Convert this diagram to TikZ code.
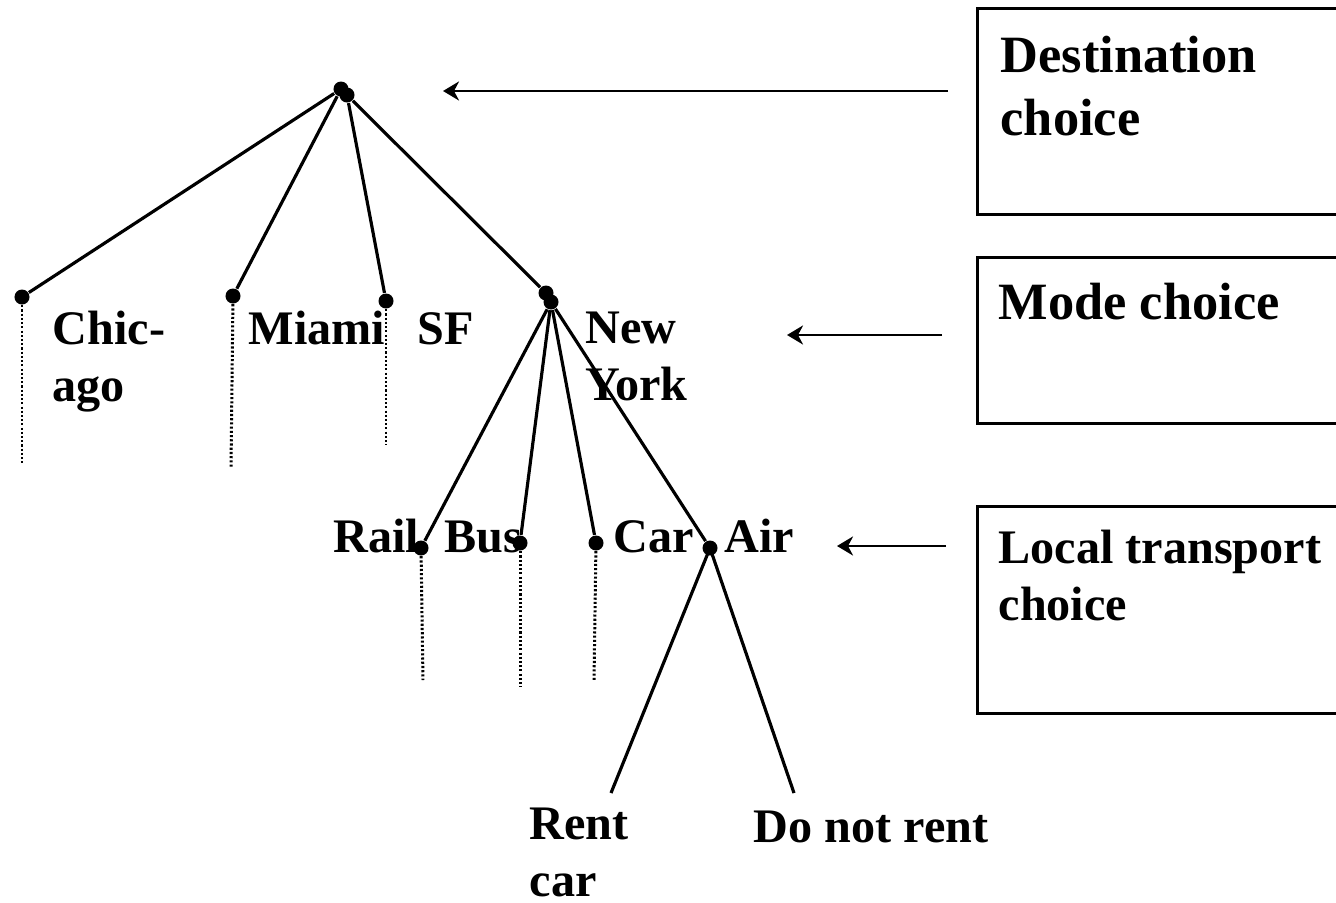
\documentclass[tikz,border=0pt]{standalone}
\usepackage{fontspec}
\setmainfont{Liberation Serif}
\usetikzlibrary{arrows.meta,positioning}

\begin{document}
\begin{tikzpicture}[x=0.01cm, y=-0.01cm,
          dot/.style={circle, fill=black, inner sep=0pt, minimum size=0.15cm},
          branch/.style={line width=0.9pt},
          trail/.style={line width=0.85pt, dash pattern=on 0.6pt off 0.6pt},
          lbl/.style={anchor=base west, inner sep=0pt, align=left, font=\bfseries\fontsize{13.7}{16.2}\selectfont},
          biglbl/.style={lbl, font=\bfseries\fontsize{14.9}{17.9}\selectfont},
          levelbox/.style={draw, line width=0.75pt, anchor=north west, minimum width=4cm},
          pointer/.style={line width=0.7pt, -{Stealth[length=0.16cm, width=0.19cm, inset=0.05cm]}}
        ]
          \clip (0,0) rectangle (1336,902);

          % Wurzel (Ziel)
          \node[dot] (root) at (341,89) {};
          \node[dot] (root2) at (347,95) {};

          % Ziele
          \node[dot] (chi) at (22,297) {};
          \node[dot] (mia) at (233,296) {};
          \node[dot] (sf) at (386,301) {};
          \node[dot] (ny) at (546,293) {};
          \node[dot] (ny2) at (551,302) {};

          % Verkehrsmittel
          \node[dot] (rail) at (421,548) {};
          \node[dot] (bus) at (520,543) {};
          \node[dot] (car) at (596,543) {};
          \node[dot] (air) at (710,548) {};

          % Enden
          \coordinate (chiend) at (22,463);
          \coordinate (miaend) at (231,468);
          \coordinate (sfend) at (386,445);
          \coordinate (railend) at (423,680);
          \coordinate (busend) at (520,687);
          \coordinate (carend) at (594,680);
          \coordinate (rentend) at (611,793);
          \coordinate (norentend) at (794,793);

          % Aeste
          \draw[branch] (root) -- (chi);
          \draw[branch] (root) -- (mia);
          \draw[branch] (root2) -- (sf);
          \draw[branch] (root2) -- (ny);
          \draw[branch] (ny2) -- (rail);
          \draw[branch] (ny2) -- (bus);
          \draw[branch] (ny2) -- (car);
          \draw[branch] (ny2) -- (air);
          \draw[branch] (air.center) -- (rentend);
          \draw[branch] (air.center) -- (norentend);

          % punktierte Fortsetzungen
          \draw[trail] (chi) -- (chiend);
          \draw[trail] (mia) -- (miaend);
          \draw[trail] (sf) -- (sfend);
          \draw[trail] (rail) -- (railend);
          \draw[trail] (bus) -- (busend);
          \draw[trail] (car) -- (carend);

          % Beschriftungen (base = letzte Zeile)
          \node[lbl] (chilbl) at (52,401) {Chic-\\ago};
          \node[lbl] (mialbl) at (248,344) {Miami};
          \node[lbl] (sflbl) at (417,344) {SF};
          \node[lbl] (nylbl) at (585,400) {New\\York};
          \node[lbl] (raillbl) at (333,552) {Rail};
          \node[lbl] (buslbl) at (444,552) {Bus};
          \node[lbl] (carlbl) at (613,552) {Car};
          \node[lbl] (airlbl) at (724,552) {Air};
          \node[lbl] (rentlbl) at (529,896) {Rent\\car};
          \node[lbl] (norentlbl) at (753,842) {Do not rent};

          % Ebenen
          \node[levelbox, minimum height=2.06cm] (destbox) at (976,7) {};
          \node[levelbox, minimum height=1.66cm] (modebox) at (976,256) {};
          \node[levelbox, minimum height=2.07cm] (localbox) at (976,505) {};
          \node[biglbl] (desttxt) at (1000,135) {Destination\\choice};
          \node[biglbl] (modetxt) at (998,319) {Mode choice};
          \node[lbl] (localtxt) at (998,620) {Local transport\\choice};

          % Pfeile
          \coordinate (destfrom) at (948,91);
          \coordinate (destto) at (443,91);
          \coordinate (modefrom) at (942,335);
          \coordinate (modeto) at (787,335);
          \coordinate (localfrom) at (946,546);
          \coordinate (localto) at (837,546);
          \draw[pointer] (destfrom) -- (destto);
          \draw[pointer] (modefrom) -- (modeto);
          \draw[pointer] (localfrom) -- (localto);
        \end{tikzpicture}
\end{document}
